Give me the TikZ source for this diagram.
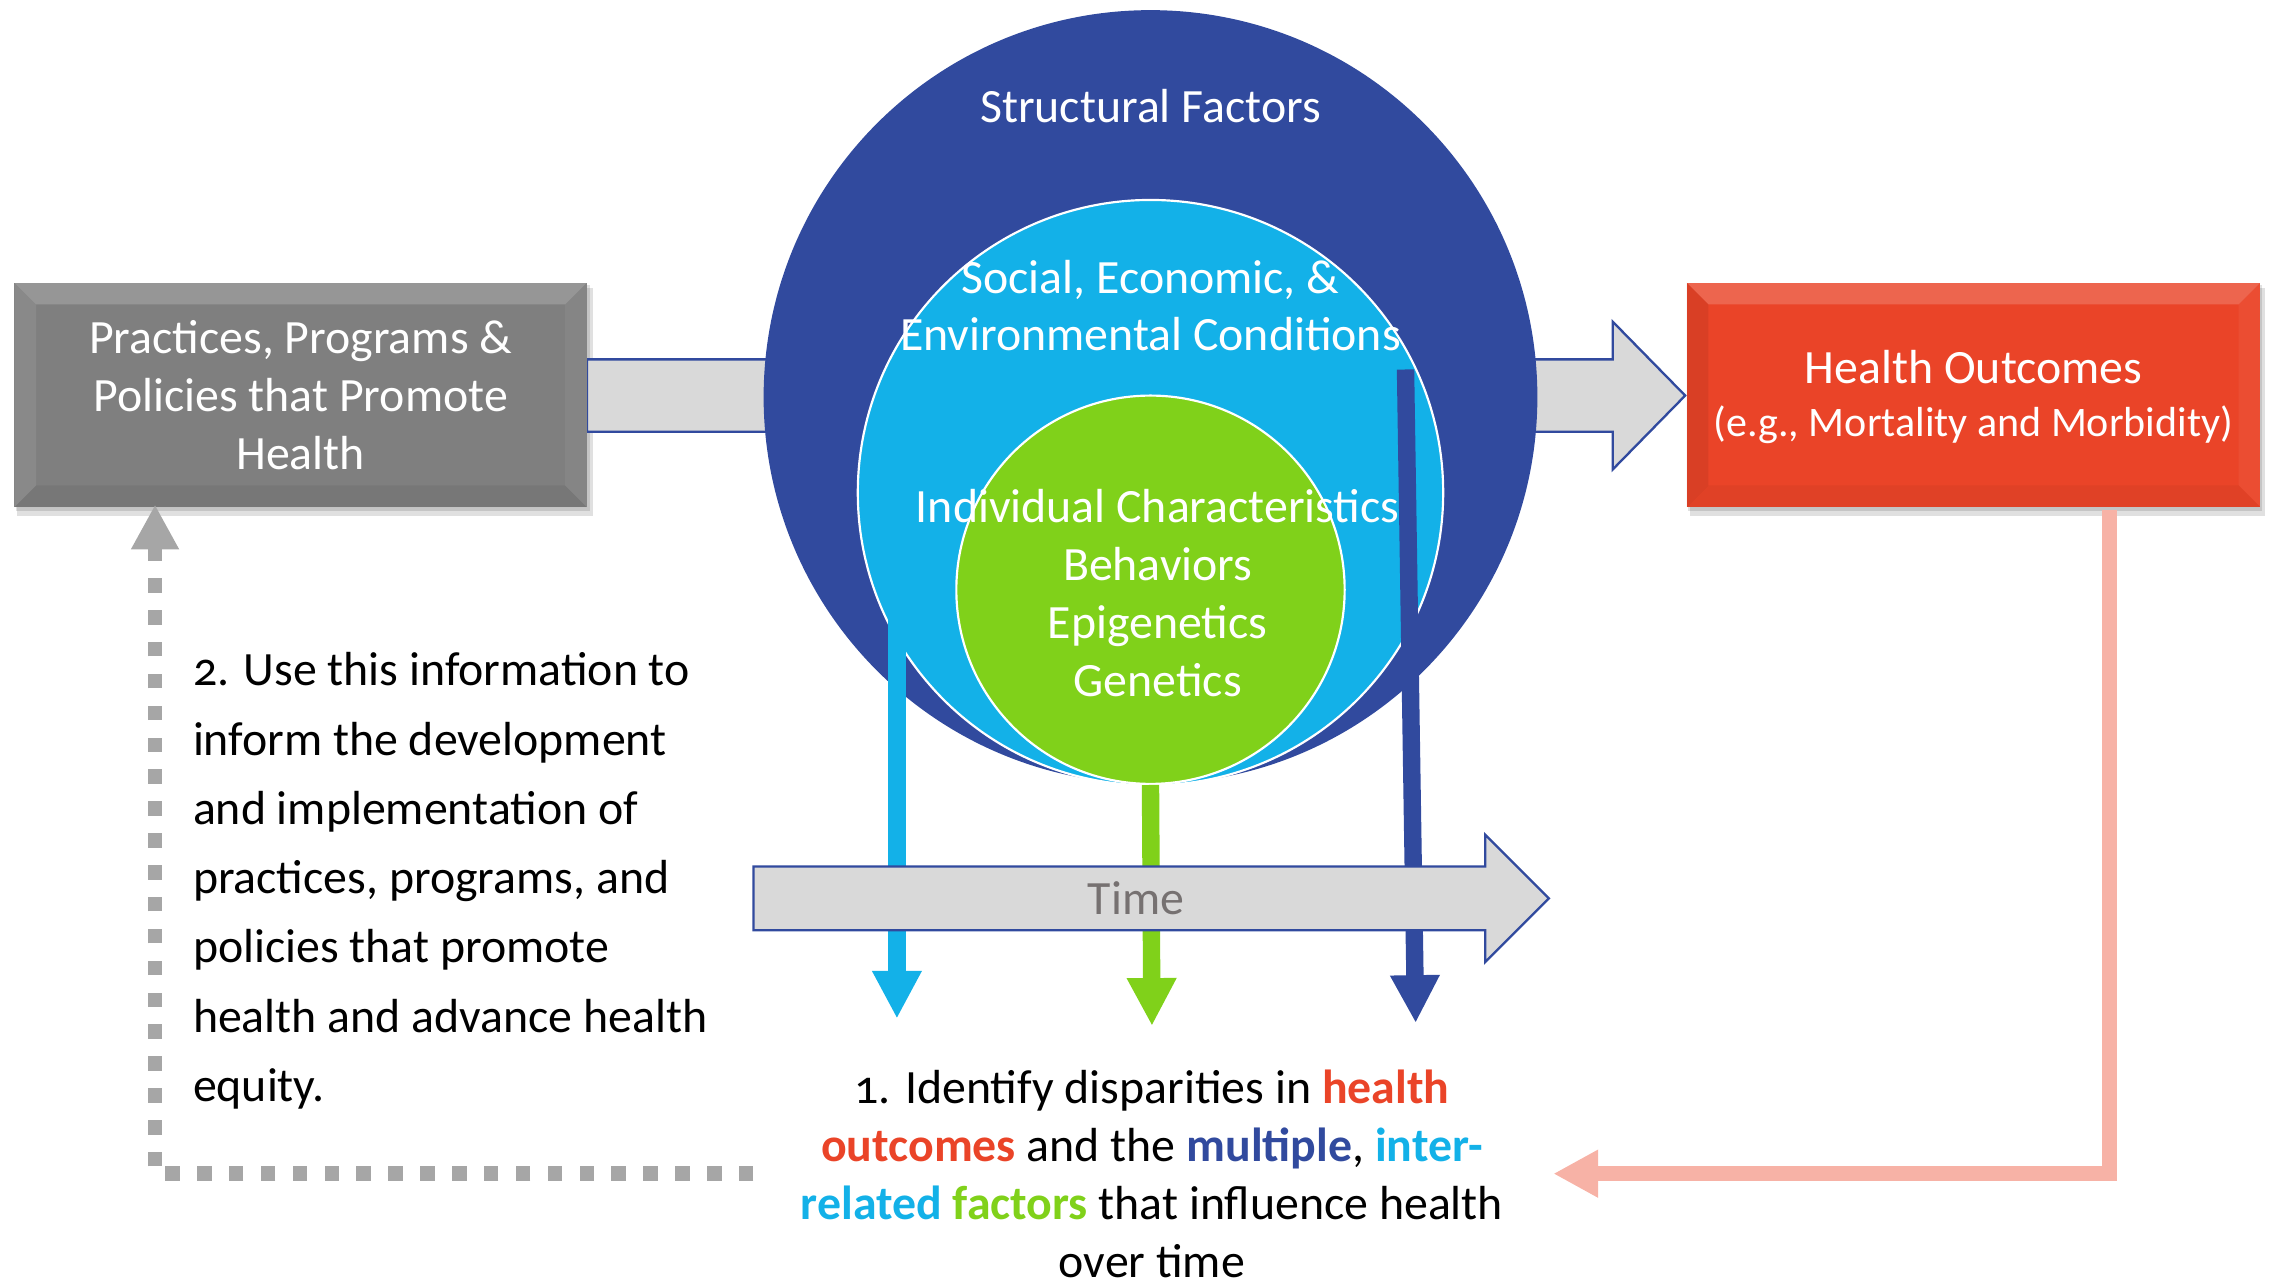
\documentclass[tikz,border=0pt]{standalone}
\usepackage{fontspec}
\setmainfont{Carlito}[Numbers=OldStyle]
\usetikzlibrary{arrows.meta}
\definecolor{dblue}{HTML}{314A9E}
\definecolor{lblue}{HTML}{13B1E8}
\definecolor{lgreen}{HTML}{80D11A}
\definecolor{hred}{HTML}{EA4428}
\definecolor{pinkc}{HTML}{F7B2A6}
\definecolor{dgray}{HTML}{A6A6A6}
\definecolor{afill}{HTML}{D9D9D9}
\definecolor{timec}{HTML}{767171}
\definecolor{boxgray}{HTML}{7F7F7F}
\begin{document}
\begin{tikzpicture}[x=1pt,y=-1pt,
  bigfont/.style={font=\fontsize{33}{40}\selectfont},
  fatarrow/.style={fill=afill,draw=dblue,line width=1.6pt,line join=miter},
  ring/.style={circle,inner sep=0pt,draw=white,line width=1.5pt},
  vline/.style={line width=12pt},
  vtip/.style={-{Triangle[width=32pt,length=33pt]}},
  wtext/.style={text=white,bigfont,align=center,inner sep=0pt},
  boxlabel/.style={rectangle,minimum width=395pt,minimum height=155pt,inner sep=0pt,text=white,align=center},
  shadowc/.style={fill=black,opacity=0.12}
]
\useasboundingbox (0,0) rectangle (1568,885);

% shadows of boxes
\fill[shadowc] (12,199) rectangle (409,356);
\fill[shadowc] (11,197) rectangle (407,353);
\fill[shadowc] (1166,199) rectangle (1563,356);
\fill[shadowc] (1165,197) rectangle (1561,353);

% big horizontal arrow (behind the circles)
\draw[fatarrow] (405,248) -- (1113,248) -- (1113,222) -- (1163,273) -- (1113,324) -- (1113,298) -- (405,298) -- cycle;

% circles
\node[circle,inner sep=0pt,minimum size=534pt,fill=dblue] (sf) at (794,274) {};
\node[ring,minimum size=404pt,fill=lblue] (se) at (794,340) {};
\node[ring,minimum size=268pt,fill=lgreen] (ic) at (794,407) {};

% vertical arrows
\coordinate (lbtop) at (619,420);
\coordinate (lbend) at (619,703);
\coordinate (gnend) at (795,708);
\coordinate (dbtop) at (970,255);
\coordinate (dbend) at (977,706);
\draw[vline,lblue,vtip] (lbtop) -- (lbend);
\draw[vline,lgreen,vtip] (ic.south) -- (gnend);
\draw[vline,dblue,vtip] (dbtop) -- (dbend);

% circle texts
\node[wtext] (sft) at (794,73) {Structural Factors};
\node[wtext,font=\fontsize{33}{39}\selectfont] (set) at (794,211) {Social, Economic, \&\\Environmental Conditions};
\node[wtext] (ict) at (799,409) {Individual Characteristics\\Behaviors\\Epigenetics\\Genetics};

% time arrow
\draw[fatarrow] (520,598) -- (1025,598) -- (1025,576) -- (1069,620) -- (1025,664) -- (1025,642) -- (520,642) -- cycle;
\node[text=timec,bigfont,inner sep=0pt] (time) at (784,620) {Time};

% gray box with bevel
\fill[boxgray] (10,195) rectangle (405,350);
\fill[color=white,opacity=0.18] (10,195) -- (405,195) -- (390,210) -- (25,210) -- cycle;
\fill[color=white,opacity=0.08] (10,195) -- (25,210) -- (25,335) -- (10,350) -- cycle;
\fill[color=white,opacity=0.05] (405,195) -- (390,210) -- (390,335) -- (405,350) -- cycle;
\fill[color=black,opacity=0.06] (10,350) -- (25,335) -- (390,335) -- (405,350) -- cycle;
\node[boxlabel,bigfont] (pp) at (207.5,272.5) {Practices, Programs \&\\Policies that Promote\\Health};

% red box with bevel
\fill[hred] (1164,195) rectangle (1560,350);
\fill[color=white,opacity=0.18] (1164,195) -- (1560,195) -- (1545,210) -- (1179,210) -- cycle;
\fill[color=black,opacity=0.07] (1164,195) -- (1179,210) -- (1179,335) -- (1164,350) -- cycle;
\fill[color=white,opacity=0.05] (1560,195) -- (1545,210) -- (1545,335) -- (1560,350) -- cycle;
\fill[color=black,opacity=0.04] (1164,350) -- (1179,335) -- (1545,335) -- (1560,350) -- cycle;
\node[boxlabel,font=\fontsize{33}{37}\selectfont] (ho) at (1362,274) {Health Outcomes\\{\fontsize{29}{37}\selectfont (e.g., Mortality and Morbidity)}};

% step 1 text
\node[bigfont,align=center,inner sep=0pt] (s1) at (795,810) {1. Identify disparities in \textbf{\color{hred}health}\\\textbf{\color{hred}outcomes} and the \textbf{\color{dblue}multiple}, \textbf{\color{lblue}inter-}\\\textbf{\color{lblue}related} \textbf{\color{lgreen}factors} that influence health\\over time};

% step 2 text
\node[font=\fontsize{33}{47.8}\selectfont,align=left,inner sep=0pt,anchor=west] (s2) at (133,608) {2. Use this information to\\inform the development\\and implementation of\\practices, programs, and\\policies that promote\\health and advance health\\equity.};

% pink feedback connector
\coordinate (pkx) at (1456,810);
\coordinate (pkend) at (1072,810);
\draw[pinkc,line width=10pt,-{Triangle[width=31pt,length=31pt]}] (ho.south -| pkx) -- (pkx) -- (pkend);

% gray dotted connector
\coordinate (gstart) at (520,810);
\coordinate (gcorner) at (107,810);
\draw[dgray,line width=10pt,dash pattern=on 10pt off 12pt,-{Triangle[width=31pt,length=31pt]}] (gstart) -- (gcorner) -- ([yshift=2pt]pp.south -| gcorner);
\end{tikzpicture}
\end{document}
